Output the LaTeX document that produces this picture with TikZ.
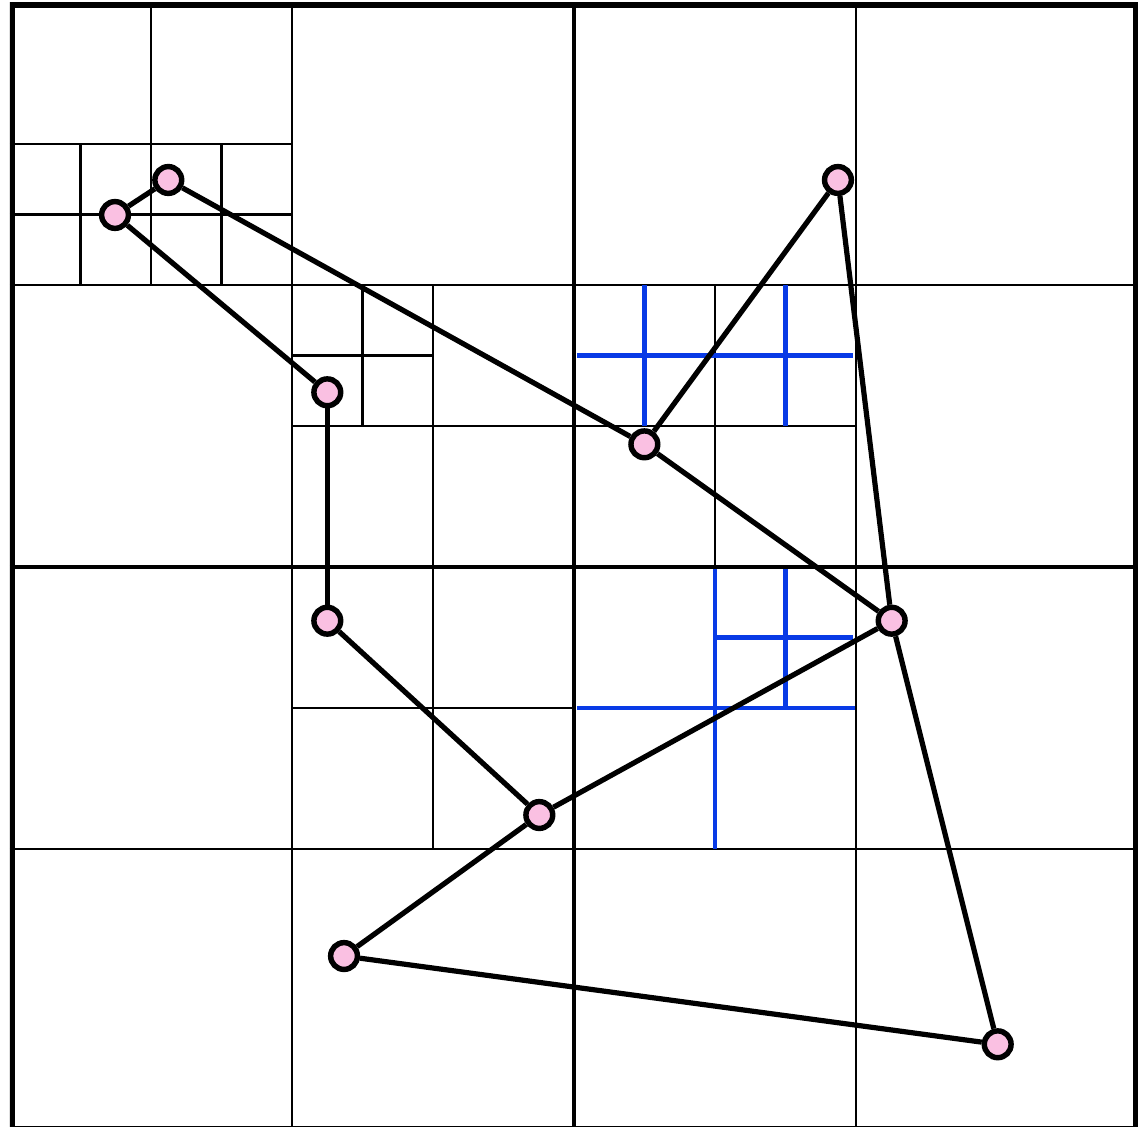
\documentclass[tikz,border=0pt]{standalone}
\usepackage{tikz}
\definecolor{qblue}{RGB}{8,58,230}
\definecolor{ptpink}{RGB}{250,192,226}
\tikzset{
  thinline/.style={line width=0.45pt, black},
  thickline/.style={line width=0.95pt, black},
  blueline/.style={line width=0.9pt, qblue},
  edge/.style={line width=1.05pt, black},
  pt/.style={circle, draw=black, fill=ptpink, line width=1.1pt, inner sep=0pt, minimum size=0.19cm}
}
\begin{document}
\begin{tikzpicture}[x=1cm,y=1cm]
\useasboundingbox (-0.07092,0.03546) rectangle (8.0,8.02128);
\clip (-0.07092,0.03546) rectangle (8.0,8.02128);
\fill[white] (-0.07092,0.03546) rectangle (8.0,8.02128);
% thin grid lines
\draw[thinline] (2,0) -- (2,8);
\draw[thinline] (6,0) -- (6,8);
\draw[thinline] (0,2) -- (8,2);
\draw[thinline] (0,6) -- (8,6);
% top-left cell subdivisions
\draw[thinline] (1,6) -- (1,8);
\draw[thinline] (0,7) -- (2,7);
\draw[thinline] (0.5,6) -- (0.5,7);
\draw[thinline] (1.5,6) -- (1.5,7);
\draw[thinline] (0,6.5) -- (2,6.5);
% cell [2,4]x[4,6]
\draw[thinline] (3,4) -- (3,6);
\draw[thinline] (2,5) -- (4,5);
\draw[thinline] (2.5,5) -- (2.5,6);
\draw[thinline] (2,5.5) -- (3,5.5);
% cell [2,4]x[2,4]
\draw[thinline] (3,2) -- (3,4);
\draw[thinline] (2,3) -- (4,3);
% cell [4,6]x[4,6]
\draw[thinline] (5,4) -- (5,6);
\draw[thinline] (4,5) -- (6,5);
% blue lines
\draw[blueline] (4.5,5) -- (4.5,6);
\draw[blueline] (5.5,5) -- (5.5,6);
\draw[blueline] (4.02,5.5) -- (5.98,5.5);
\draw[blueline] (5,2) -- (5,4);
\draw[blueline] (4.02,3) -- (5.99,3);
\draw[blueline] (5.5,3) -- (5.5,4);
\draw[blueline] (5,3.5) -- (5.98,3.5);
% thick lines
\draw[thickline] (4,0) -- (4,8);
\draw[thickline] (0,4) -- (8,4);
\begin{scope}
\clip (0,0) rectangle (8,8);
\draw[line width=2pt] (0,0) rectangle (8,8);
\end{scope}
% points
\node[pt] (p1) at (1.1227,6.7447) {};
\node[pt] (p2) at (0.7447,6.4965) {};
\node[pt] (p3) at (2.2504,5.2390) {};
\node[pt] (p4) at (2.2504,3.6190) {};
\node[pt] (p5) at (3.7540,2.2410) {};
\node[pt] (p6) at (6.2530,3.6190) {};
\node[pt] (p7) at (7.0049,0.6150) {};
\node[pt] (p8) at (2.3690,1.2410) {};
\node[pt] (p9) at (4.4990,4.8700) {};
\node[pt] (p10) at (5.8720,6.7447) {};
% edges
\draw[edge] (p1) -- (p2);
\draw[edge] (p2) -- (p3);
\draw[edge] (p3) -- (p4);
\draw[edge] (p4) -- (p5);
\draw[edge] (p5) -- (p6);
\draw[edge] (p5) -- (p8);
\draw[edge] (p8) -- (p7);
\draw[edge] (p7) -- (p6);
\draw[edge] (p6) -- (p10);
\draw[edge] (p10) -- (p9);
\draw[edge] (p9) -- (p6);
\draw[edge] (p1) -- (p9);
\end{tikzpicture}
\end{document}
